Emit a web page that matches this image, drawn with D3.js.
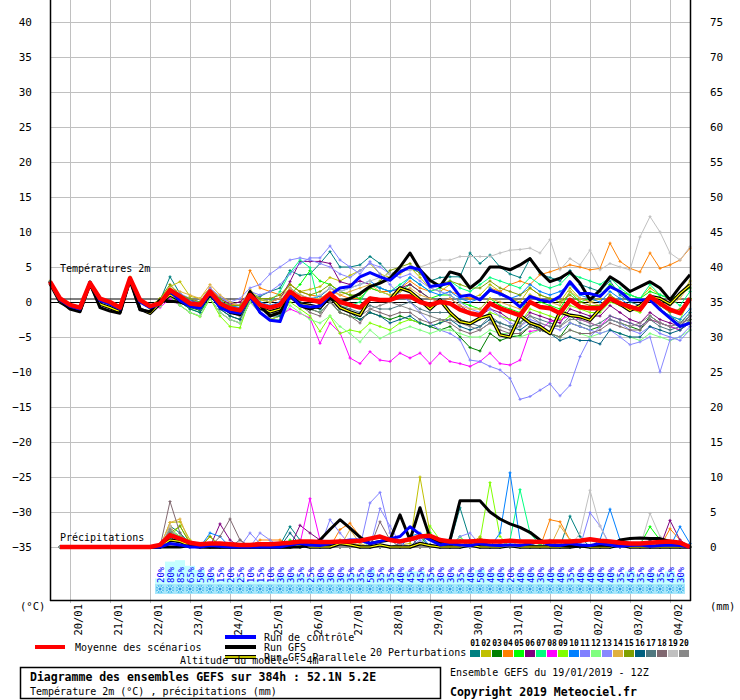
<!DOCTYPE html>
<html>
<head>
<meta charset="utf-8">
<script src="https://cdn.jsdelivr.net/npm/d3@7"></script>
<style>
  body { margin: 0; background: #fff; }
  text { font-family: "DejaVu Sans Mono", monospace; }
</style>
</head>
<body>
<script>
// Data
//= ================================
// model steps, every 6h from 19/01 12Z (0h) to 384h
var hours = d3.range(0, 385, 6);
var precipHours = hours.slice(1);
var pctHours = d3.range(66, 379, 6);

var dayLabels = ["20/01", "21/01", "22/01", "23/01", "24/01", "25/01", "26/01", "27/01",
  "28/01", "29/01", "30/01", "31/01", "01/02", "02/02", "03/02", "04/02"];
var dayHours = d3.range(12, 373, 24);
var tempTicks = [-35, -30, -25, -20, -15, -10, -5, 0, 5, 10, 15, 20, 25, 30, 35, 40];
var mmTicks = [0, 5, 10, 15, 20, 25, 30, 35, 40, 45, 50, 55, 60, 65, 70, 75];

// probability of precipitation (%), 22/01 06Z -> 04/02 06Z
var pctValues = [20, 80, 85, 65, 50, 30, 15, 20, 25, 10, 15, 10, 30, 30, 35, 25, 30, 30, 30, 35,
  35, 50, 35, 35, 40, 45, 45, 35, 30, 30, 35, 40, 50, 40, 40, 20, 40, 40, 30, 40,
  40, 35, 40, 40, 40, 40, 35, 45, 35, 40, 35, 45, 30];

var pertColors = ["#008080", "#c0c000", "#008000", "#ff8000", "#00ff00", "#800080", "#00ff80",
  "#ff00ff", "#80ff00", "#0080ff", "#8080ff", "#80ff80", "#8888ff", "#e0b040", "#80a000",
  "#006080", "#507880", "#806870", "#c0c0c0", "#888888"];
var pertNames = ["01", "02", "03", "04", "05", "06", "07", "08", "09", "10",
  "11", "12", "13", "14", "15", "16", "17", "18", "19", "20"];

// 2m temperature (°C)
var tempMean = [2.9,0.5,-0.4,-0.8,2.7,0.5,0.0,-0.8,3.4,0.3,-0.6, -0.2, 1.7,0.8,-0.2,-0.4, 1.5,-0.2,-0.9,-1.2, 1.0,-0.4,-0.8,-0.4, 1.5,0.5,0.3,0.0, 1.2,0.0,-0.4,-0.8, 0.5,0.3,0.3,0.8, 0.8,0.0,-0.4,0.0, -0.2,-1.1,-1.6,-1.9, -0.2,-0.9,-1.4,-1.9, 0.0,-0.7,-0.9,-1.6, 0.3,-0.7,-0.9,-0.9, 0.5,-0.2,-0.7,-1.1, 0.8,-0.2,-1.1,-1.6, 0.5];
var tempControl = [2.9,0.3,-0.6,-1.0,2.8,0.2,-0.3,-1.0,3.4,0.0,-0.8, -0.3, 1.5,0.2,-0.6,-0.9, 1.3,-0.8,-1.4,-1.6, 0.8,-1.5,-2.6,-2.8, 1.0,-0.5,-0.7,-0.6, 1.0,2.0,2.2,3.6, 4.2,3.6,3.1,4.3, 5.0,4.6,2.2,2.4, 2.7,0.8,1.0,0.3, 1.7,1.2,0.5,-0.7, 0.8,0.3,0.0,0.8, 2.9,1.2,1.2,0.8, 2.2,1.5,0.3,0.3, 0.3,-1.1,-2.3,-3.5, -3.0];
var tempGfs = [2.9,0.2,-1.0,-1.4,2.7,-0.8,-1.3,-1.6,3.3,-1.1,-1.4, 0.3, 0.1,0.0,-0.5,-0.8, 1.0,-0.5,-1.5,-1.8, 1.5,-0.5,-2.0,-1.5, 1.0,-0.5,-1.0,-0.5, 0.5,0.0,0.5,1.2, 2.2,2.7,3.4,5.0, 7.0,4.6,3.1,2.2, 4.3,3.9,2.0,3.1, 5.0,5.0,4.6,5.3, 6.2,4.3,2.9,3.4, 4.3,2.7,0.3,1.7, 3.6,2.7,1.5,2.2, 2.9,2.0,0.3,2.2, 3.9];
var tempPara = [2.7,0.0,-0.8,-1.2,2.6,-0.3,-0.8,-1.4,3.2,-1.0,-1.6, -0.2, 1.0,0.3,-0.5,-0.8, 1.2,-0.5,-1.2,-1.5, 0.8,-0.8,-1.4,-1.0, 0.9,-0.3,-0.5,-0.8, 0.8,-0.8,-1.4,-1.9, 0.5,0.3,0.3,2.0, 1.5,0.3,-1.0,0.3, -1.5,-2.8,-3.1,-2.3, -1.9,-4.7,-5.0,-1.9, -3.0,-3.5,-4.5,-1.4, -1.9,-2.1,-2.6,-1.0, 0.5,-0.3,-1.2,-0.5, 0.8,0.5,-0.3,1.2, 2.4];
var tempPert = [
  [2.8,0.4,-0.4,-0.8,2.9,0.4,0.0,-0.8,3.5,0.2,-0.5, 0.2, 3.6,1.2,0.3,0.0, 1.8,0.3,-0.8,-1.5, 1.0,0.8,1.5,2.0, 4.5,3.8,4.0,5.5, 7.2,5.0,5.0,5.3, 6.5,5.5,4.0,4.5, 4.8,4.2,3.0,3.5, 3.6,3.6,7.0,5.5, 6.7,5.0,4.0,3.5, 6.2,4.0,3.5,3.0, 4.5,2.5,2.0,1.5, 3.0,1.0,0.0,-0.5, 1.0,-1.0,-2.0,-3.0, -1.5],
  [3.0,0.3,-0.5,-1.0,2.8,0.3,-0.1,-0.9,3.6,0.1,-0.6, 0.4, 2.2,2.9,0.8,0.5, 2.0,0.5,-0.5,-0.9, 1.8,0.3,0.0,0.5, 2.5,1.5,1.8,2.2, 3.5,3.0,3.8,4.5, 5.5,4.0,3.5,4.0, 5.0,3.5,2.0,1.5, 2.5,1.0,0.5,1.0, 2.5,1.5,0.5,0.0, 2.0,1.0,0.5,0.0, 2.0,0.5,0.0,0.5, 2.5,1.5,1.0,0.5, 2.0,1.0,0.5,1.0, 3.0],
  [2.9,0.2,-0.6,-1.0,2.7,0.2,-0.3,-1.0,3.3,0.0,-0.8, -0.4, 1.2,0.3,-0.8,-1.2, 1.0,-1.0,-2.0,-2.5, 0.5,-1.0,-1.8,-1.5, 0.8,-0.5,-1.0,-1.5, 0.0,-1.5,-2.0,-2.5, -1.5,-2.0,-2.5,-2.0, -2.5,-3.0,-3.5,-4.0, -3.5,-5.0,-6.5,-7.0, -4.5,-5.5,-5.0,-4.8, -3.5,-4.0,-4.5,-5.0, -3.0,-3.5,-4.0,-3.5, -2.5,-3.0,-3.5,-4.0, -2.0,-3.0,-3.5,-4.0, -2.5],
  [2.9,0.4,-0.4,-0.8,2.9,0.4,0.0,-0.7,3.5,0.3,-0.5, 0.0, 1.5,1.0,0.2,-0.2, 2.0,0.5,-0.3,-0.5, 4.5,2.0,1.5,1.0, 2.5,1.5,1.0,0.8, 2.0,1.0,0.5,0.5, 2.0,1.5,1.5,2.0, 3.0,2.0,1.5,2.0, 1.5,1.0,0.5,0.5, 2.0,1.5,2.5,3.0, 2.5,3.9,4.3,4.8, 5.3,5.0,4.6,4.8, 8.4,5.8,4.8,4.3, 7.0,4.8,5.3,6.0, 7.7],
  [2.8,0.2,-0.6,-1.1,2.7,0.1,-0.4,-1.1,3.3,-0.1,-0.9, -0.5, 1.0,0.0,-1.0,-1.5, 0.5,-1.5,-2.5,-3.0, 0.0,-1.5,-2.5,-2.0, 1.0,2.5,4.5,3.0, 2.5,1.5,1.0,0.5, 2.0,1.5,1.0,1.5, 2.5,1.5,0.5,1.0, 1.0,0.0,-0.5,-1.0, 0.5,-0.5,-1.0,-1.5, 1.0,0.0,-0.5,-1.0, 1.5,0.0,0.5,1.0, 2.5,1.5,1.0,0.5, 1.5,1.0,0.5,1.0, 2.0],
  [2.9,0.3,-0.5,-0.9,2.8,0.3,-0.2,-0.8,3.4,0.1,-0.7, 0.0, 1.8,0.8,0.2,-0.2, 1.5,0.5,-0.3,0.0, 1.2,0.5,0.0,0.5, 2.9,5.8,5.8,5.8, 5.5,2.9,2.5,3.0, 2.5,2.0,1.5,2.0, 2.5,1.5,0.5,0.0, 0.5,-0.5,-1.5,-2.0, -1.0,-1.5,-2.5,-3.0, -1.5,-2.0,-2.5,-3.0, -1.0,-1.5,-2.0,-2.0, -0.5,-1.5,-2.5,-3.0, -1.5,-2.5,-3.0,-3.5, -2.0],
  [2.9,0.3,-0.5,-0.9,2.8,0.3,-0.2,-0.9,3.4,0.1,-0.7, -0.2, 1.5,0.5,-0.5,-0.5, 1.0,0.0,-0.5,-1.0, 1.5,0.5,0.0,1.5, 4.2,6.0,4.9,-1.0, 1.0,-1.0,-0.5,0.0, 2.5,2.0,1.5,2.5, 3.5,2.5,1.5,2.0, 3.0,2.0,1.5,2.5, 3.5,3.0,2.5,2.0, 3.5,2.5,2.0,2.5, 4.0,3.5,3.0,2.5, 3.5,2.0,1.0,0.5, 2.5,1.0,0.5,-0.5, 1.5],
  [2.9,0.2,-0.6,-1.0,2.8,0.2,-0.3,-1.0,3.3,0.0,-0.8, -0.8, 0.5,-0.5,-1.5,-2.0, 0.5,-1.5,-2.5,-3.0, 0.0,-1.5,-2.5,-2.0, -1.0,-1.6,-2.3,-5.9, -3.0,-4.4,-8.0,-8.8, -7.1,-8.3,-8.5,-7.3, -8.0,-7.3,-8.8,-7.3, -8.5,-8.8,-9.2,-8.5, -7.3,-8.8,-9.0,-8.3, -4.2,-4.0,-2.8,-2.6, -1.9,-2.5,-3.0,-3.5, -2.0,-2.5,-3.0,-3.5, -2.5,-3.0,-3.5,-4.0, -3.0],
  [2.8,0.2,-0.6,-1.1,2.7,0.1,-0.4,-1.1,3.3,-0.1,-0.9, -0.6, 1.0,-0.5,-1.5,-2.1, 0.5,-2.0,-3.5,-3.7, 0.5,-1.5,-2.5,-2.0, 0.0,-1.0,-2.0,-4.2, -2.0,-4.5,-4.0,-4.3, -3.0,-3.5,-4.0,-3.0, -2.5,-3.0,-3.5,-3.0, -2.0,-2.5,-3.0,-2.5, -1.5,-2.0,-2.5,-3.0, -1.0,-1.5,-2.0,-2.5, -0.5,-1.0,-1.5,-1.5, 0.0,-0.5,-1.0,-1.5, 0.5,-1.0,-2.0,-2.5, 0.5],
  [2.9,0.3,-0.5,-0.9,2.8,0.3,-0.2,-0.9,3.4,0.1,-0.7, 0.0, 1.8,1.0,0.2,-0.3, 1.5,0.0,-0.5,-0.8, 1.2,0.0,-0.5,0.0, 2.0,1.0,0.5,0.8, 2.0,1.5,2.0,2.5, 3.0,2.0,1.5,2.0, 3.5,2.5,1.5,1.0, 1.5,0.5,0.0,0.5, 2.0,1.0,0.5,1.0, 2.5,1.5,1.0,1.5, 2.5,1.0,0.5,0.0, 1.5,0.5,-0.5,-1.0, 0.5,-1.0,-2.0,-2.5, -1.0],
  [2.9,0.4,-0.4,-0.8,2.9,0.4,-0.1,-0.8,3.5,0.2,-0.6, 0.2, 2.0,1.2,0.5,0.0, 2.0,0.8,0.0,-0.5, 1.5,1.0,1.5,2.5, 4.0,5.5,6.3,6.3, 8.0,6.0,5.0,4.0, 5.8,4.0,2.5,1.0, 0.0,-1.5,-3.0,-4.0, -4.5,-5.4,-8.3,-8.5, -9.2,-9.7,-10.9,-13.9, -13.5,-12.6,-11.7,-13.4, -11.9,-7.8,-5.0,-3.5, -2.5,-3.0,-4.0,-4.5, -3.5,-4.5,-5.0,-5.5, -4.0],
  [2.8,0.2,-0.6,-1.0,2.7,0.2,-0.3,-1.0,3.3,0.0,-0.8, -0.6, 0.8,-0.5,-1.5,-2.0, 0.5,-1.5,-2.5,-3.0, 0.0,-1.5,-2.5,-2.5, -0.5,-1.5,-2.5,-3.0, -2.0,-3.5,-4.5,-5.7, -4.0,-5.2,-4.5,-4.0, -3.5,-4.0,-4.5,-4.0, -4.0,-4.5,-5.0,-5.0, -4.0,-4.5,-4.5,-5.0, -4.5,-4.0,-4.5,-5.0, -4.0,-4.5,-5.0,-4.5, -4.0,-4.5,-5.0,-5.5, -4.5,-5.0,-5.5,-5.0, -4.0],
  [2.9,0.3,-0.5,-0.9,2.8,0.3,-0.2,-0.9,3.4,0.1,-0.7, 0.0, 1.5,0.5,0.0,-0.5, 1.5,0.5,0.0,0.5, 2.0,2.5,4.0,5.0, 6.0,6.3,6.0,5.5, 5.0,4.0,3.5,4.5, 5.5,5.0,4.0,3.5, 4.0,3.0,2.0,1.5, 1.0,0.0,-1.0,-1.5, -1.0,-2.0,-3.0,-3.5, -2.5,-3.0,-3.5,-4.0, -3.0,-3.5,-4.0,-4.5, -4.0,-5.0,-6.1,-5.7, -5.0,-10.0,-5.4,-5.0, -3.5],
  [2.9,0.3,-0.5,-0.9,2.9,0.3,-0.2,-0.9,3.4,0.1,-0.7, 0.5, 2.0,1.5,1.0,0.5, 2.5,1.0,0.0,-0.5, 1.5,0.5,0.0,0.5, 2.0,1.0,0.5,0.5, 1.5,1.0,1.5,2.0, 2.5,1.5,1.0,1.5, 2.0,1.0,0.5,0.0, 0.5,-0.5,-1.0,-1.0, 0.5,0.0,-0.5,-1.0, 1.0,0.5,0.0,-0.5, 1.5,0.5,0.0,-0.5, 1.0,0.0,-0.5,-1.0, 1.0,0.0,-0.5,0.5, 2.5],
  [2.9,0.3,-0.5,-0.9,2.8,0.3,-0.2,-0.9,3.5,0.1,-0.7, 0.5, 2.5,1.0,0.5,0.0, 1.5,0.5,-0.5,-0.5, 1.0,0.5,0.5,1.0, 2.5,1.5,1.0,1.5, 2.5,1.5,1.0,1.0, 2.0,3.0,4.5,5.0, 5.5,4.0,3.0,2.5, 3.0,2.5,2.0,2.0, 3.0,2.0,1.5,1.0, 2.0,1.0,0.5,0.0, 1.0,0.0,-0.5,-0.5, 1.0,0.0,-0.5,-1.0, 0.5,-0.5,-1.5,-1.0, 0.5],
  [2.9,0.2,-0.6,-1.0,2.8,0.2,-0.3,-1.0,3.3,0.0,-0.8, -0.3, 1.2,0.0,-1.0,-1.5, 1.0,-1.0,-2.0,-2.5, 0.5,-1.0,-2.0,-2.0, 1.0,0.0,-0.5,-1.0, 0.5,-1.0,-1.5,-2.5, -1.5,-2.0,-3.0,-2.5, -2.0,-3.0,-3.5,-3.0, -2.5,-3.5,-4.0,-3.5, -2.5,-3.0,-3.5,-4.0, -3.0,-4.0,-4.5,-5.5, -5.0,-5.5,-5.5,-6.0, -4.0,-4.5,-5.0,-5.0, -3.5,-4.0,-4.5,-4.0, -3.0],
  [2.9,0.3,-0.5,-0.9,2.8,0.3,-0.2,-0.9,3.4,0.1,-0.7, -0.2, 1.5,0.5,-0.5,-1.0, 1.0,-0.5,-1.5,-2.0, 0.8,-0.5,-1.5,-1.0, 1.2,0.0,-0.5,-0.5, 0.5,-0.5,-1.0,-1.5, -0.5,-1.0,-1.0,-0.5, 0.0,-1.0,-1.5,-1.5, -1.5,-2.5,-3.0,-3.5, -2.0,-3.0,-3.5,-3.0, -2.0,-2.5,-3.0,-3.5, -2.0,-3.0,-3.5,-3.0, -2.0,-2.5,-3.0,-3.5, -2.5,-3.5,-4.0,-3.5, -2.0],
  [2.9,0.2,-0.6,-1.0,2.8,0.2,-0.3,-1.0,3.4,0.0,-0.8, -0.1, 1.3,0.3,-0.3,-0.7, 1.2,-0.3,-1.2,-1.6, 0.5,-1.0,-2.0,-1.5, 0.5,-0.5,-1.5,-2.0, 0.0,-1.5,-2.0,-3.0, -1.0,-1.5,-2.0,-1.5, -1.5,-2.5,-3.0,-2.5, -3.0,-4.0,-4.5,-4.0, -3.0,-4.0,-4.5,-4.5, -3.5,-4.0,-4.5,-5.0, -4.0,-4.5,-4.5,-4.0, -3.0,-3.5,-4.0,-4.0, -2.5,-3.0,-3.5,-3.0, -2.5],
  [2.9,0.3,-0.5,-0.9,2.8,0.3,-0.2,-0.9,3.4,0.1,-0.7, 0.0, 1.8,0.8,0.0,-0.3, 1.5,0.0,-0.8,-1.0, 1.0,-0.3,-0.8,-0.5, 1.5,0.5,0.5,1.0, 2.0,1.5,2.0,2.5, 3.0,3.5,4.0,4.5, 4.5,5.0,5.5,6.0, 6.0,6.5,6.5,6.5, 6.5,7.0,7.4,7.5, 7.7,7.0,8.9,4.6, 6.2,5.3,7.4,4.6, 5.5,5.0,4.6,9.3, 12.2,10.0,7.0,6.0, 7.9],
  [2.9,0.3,-0.5,-0.9,2.8,0.3,-0.2,-0.9,3.4,0.1,-0.7, -0.3, 1.2,0.2,-0.6,-1.0, 0.8,-0.8,-1.5,-2.0, 0.5,-1.0,-1.5,-1.5, 1.0,-0.5,-1.0,-1.5, 0.0,-1.0,-1.5,-2.0, -1.0,-0.5,0.0,-0.5, -1.0,-1.5,-2.0,-2.5, -2.5,-3.0,-3.5,-4.0, -3.0,-3.5,-4.0,-3.5, -2.0,-3.0,-3.5,-3.5, -2.5,-2.5,-3.0,-3.5, -2.5,-3.0,-3.5,-3.0, -2.0,-3.0,-3.5,-3.0, -2.0]
];

// 6h precipitation (mm), 6h -> 384h
var precipMean = [0,0,0,0,0,0,0,0,0,0, 0.3,1.7,1.2,0.6,0.4,0.5,0.5,0.4,0.3,0.3, 0.4,0.4,0.5,0.6,0.8,0.8,0.7,0.7,0.8,0.8, 0.9,1.2,1.5,1.0,0.8,1.1,1.5,1.6,1.0,0.8, 0.8,0.8,0.9,0.8,0.8,0.9,0.8,0.8,0.7,0.8, 0.8,0.8,0.9,1.1,0.9,0.8,0.6,0.5,0.5,0.6, 0.7,0.8,0.6,0];
var precipControl = [0,0,0,0,0,0,0,0,0,0, 0,0.5,0.3,0,0,0.2,0.1,0,0,0, 0,0,0,0.3,0.5,0.3,0.2,0.5,0.8,1.0, 1.0,0.5,0.8,1.2,1.5,2.9,1.8,1.0,0.3,0.5, 0.3,0.2,0.5,0.3,0.2,0.3,0.2,0.5,0.8,0.3, 0.2,0.5,0.3,0.2,0.5,0.3,0.1,0.2,0.3,0.1, 0.2,0.3,0.2,0];
var precipGfs = [0,0,0,0,0,0,0,0,0,0, 0,0,0,0.2,0.1,0,0,0,0,0, 0,0,0,0,0,0.3,1.0,2.5,3.9,2.7, 1.4,0.5,0.8,1.0,4.6,1.0,5.6,1.3,0.6,1.0, 6.6,6.6,6.6,5.0,4.0,3.3,2.8,2.1,1.0,0.3, 0.2,0.1,0.1,0.2,0.3,0.2,1.0,1.2,1.3,1.2, 1.2,0.8,0.3,0];
var precipPara = [0,0,0,0,0,0,0,0,0,0, 0,1.0,0.8,0.2,0,0,0,0,0,0, 0,0,0,0,0.3,0,0,0,0.5,0.3, 0,0,0.3,0,0,0,0.5,0.2,0,0, 0,0.3,0,0,0,0.2,0,0,0,0, 0,0,0.2,0,0,0,0.3,0,0,0, 0,0,0,0];
var precipPert = [
  [0,0,0,0,0,0,0,0,0,0, 0,3,2,0.5,0,0,0.3,0,0,0, 0,0,0.3,2.9,1,0.3,0,0,0.2,0, 0,0.3,0,0,0.5,0,0,0.3,0,0.5, 5.6,1,0,0.3,0,0,0,0.3,0,0, 0,4.4,1.5,0,0,0.3,0,0,0,0.8, 0.3,0,0,0],
  [0,0,0,0,0,0,0,0,0,0, 0,3.5,3.6,1,0,1.5,0.3,0,0,0, 0,0.3,0,0,0,0,0.3,0,0,0.5, 0.3,0,0,0,0.3,0.5,10,2,0.5,0, 0,0.3,1.5,0,0,0.3,0,0,0,0, 0.3,0,0,0,0,0,0.3,0,0,0, 0,0.5,0,0],
  [0,0,0,0,0,0,0,0,0,0, 0,2.5,1.5,0.3,0,0,0,0,0,0, 0,0.5,0,0,0,0,0,0.3,0,0, 0,0,0,0,0,0,0,0.3,0,1, 0.3,0,0,0,0,0,0,0,0,0, 0,0,0,0,0.5,0,0,0,0,0, 0,0,0,0],
  [0,0,0,0,0,0,0,0,0,0, 0,3,1,0.3,0,0,0,0,0,0, 1,1,1,0.3,0,0,0,0,2.5,3.4, 1.5,0.3,0,0,0,0,0,0,0,0, 0,0,0,0,0,0,0.3,0,0,3.9, 3.6,1,0.3,0,0,0,0,0,0,0, 0,2.6,1,0],
  [0,0,0,0,0,0,0,0,0,0, 0,2,0.5,0,0,0,0,0,0,0, 0,0,0,1,0.3,0,0,0,0,0, 0,0,0,0,0,0,0.3,2,0.3,0, 1.5,0,0,0,0,0,0,0,0.3,0, 0,0,0,0,0,0,0,0,0.3,2.9, 1,0,0,0],
  [0,0,0,0,0,0,0,0,0,0, 0,2.5,1,0,0,0,3.3,1,0,0, 0,0,0,0,3.1,2,1,0,0,0, 0,0,0,0,0,1.5,0,0,0,0, 0,0,0,0,0,0,0,0,0,0.3, 0,0,0,0,0,0,0,0,0,0, 0,3.8,1,0],
  [0,0,0,0,0,0,0,0,0,0, 0,2,1.5,0,0,0,0,0,0,0, 0,0,0,0,0,0,0,0,0,0.3, 0,0,0,0,0,0,0,0,0,0, 0,0,0,0,0,1,8.2,2,0.3,0, 0,0,0,0,0,0,0,0.3,0,0, 0,0,0,0],
  [0,0,0,0,0,0,0,0,0,0, 0,2,0.5,0,0,0,0,0,0,0, 0,0,0,0,0.5,6.9,1,0,0,0, 0,0,0,0,0,0,0,0,0,0, 0,1,0,0,0,0,0,0,0,0, 0,0,0,0,0,0,0,0,0,0.3, 0,0,0.8,0],
  [0,0,0,0,0,0,0,0,0,0, 0,1.5,3,0.5,0,0,0,0,0,0, 0,0,0,0,0,0,0,0,0,0, 0,0,0,0,0,0,0,3,1,0, 0,0,1,9.2,1.5,0,0,0,0,0, 0,0,0,0,0,0.3,0,0,0,0.5, 0,0,0,0],
  [0,0,0,0,0,0,0,0,0,0, 0,2,0.5,0,0,2,1.5,0,0,0, 0,0,0,0,0,0,0,0,0,0, 0,0,0,0,0,1.5,2,0,0,0, 0,0,0,0,2,10.6,1,0,0,0, 0,0,0,0,1,5.4,1,0,0,0, 0,0,2.9,0.5],
  [0,0,0,0,0,0,0,0,0,0, 0,2,0.5,0,0,0,0,0,0,2, 0.5,0,0,0,0,0,0,3.9,2,0.3, 0,6.3,7.8,2,0,0,1,0,0,1, 0,0,0,0,0,0,0,0,0,0, 0,0,0,4.9,3,0.3,0,0,0,0, 0,0,0,0],
  [0,0,0,0,0,0,0,0,0,0, 0,2.5,1.5,0,0,0,0,0,0,0, 0,0,0,0,0,0,0,0,0,0, 1,0,0,0,0,0,0,0,0,0, 0,0,0,0,0,0,1,0,0,0, 0,0,0,0,0,0,0,0,0,0, 0,0,0,0],
  [0,0,0,0,0,0,0,0,0,0, 0,1.5,0.5,0,0,0,0,0,0,0, 2,1,0,0,0,0,0,0,0,0, 0,0,5.5,3,0.5,0,0,0,0,0, 1.5,2,0.3,0,0,0,0,0,0,0, 0,0,0,0,0,0,0,0,0,0, 0,0,0,0],
  [0,0,0,0,0,0,0,0,0,0, 0,3.5,4,0.5,0,0,0,0,0,0, 0,0,0,0,0,0,0,0,0,2.5, 0.5,0,0,0,0,0,0,0,0,0, 0,0,0,0,0,0,0,0,0,0, 3,1,0,0,0,0,0,0,0,0, 0,0,0,0],
  [0,0,0,0,0,0,0,0,0,0, 0,2,3,0.5,0,1.5,0,0,0,0, 0,0,0,0,0,0,0,0,1,0, 0,0,0,0,0,0,0,0,0,0, 1,0,1.2,0,0,0,0,0,0,0, 0,0,0,0,0,0,0,0,0,0, 0,0,0,0],
  [0,0,0,0,0,0,0,0,0,0, 0,1.5,0.3,0,0,0,0,0,0,0, 0,0,0,2,0.3,0,0,0,0,0, 0,0,0,0,0,0,1.5,0,0,0, 0,0,0,0,0,0,0,0,0,0, 0,0,0,0,0,0,0,0,0,1, 0,0,0,0],
  [0,0,0,0,0,0,0,0,0,0, 0,2,1,0,0,0,0,0,1,0, 0,0,0,0,0,0,0,0,0,0, 0,0,0,0,0,0,0,0,0,0, 0,0,0,0,0,0,0,0.5,0,0, 0,0,0,0,0,0,0,0,0,0, 0,0,0,0],
  [0,0,0,0,0,0,0,0,0,0, 0,6.5,2,0,0,0,1.5,4,1,0, 0,0,0,0,0,0,0,0,0,0, 0,0,3.6,1,0,0,0,0,0,0, 0,0,0,0,0,0,0,0,0,0, 0,0,0,0,0,0,0,0,0,0, 0,0,0,0],
  [0,0,0,0,0,0,0,0,0,0, 0,3,0.5,0,0,0,0,0,0,0, 0,0,0,0,0,0,0,0,0,0, 0,0,0,0,0,0,0,0,0,0, 0,0,0,0,0,0,0,0,0,0, 0,0,2,8.1,3,0,0,0,0,4.8, 1.5,0,0,0],
  [0,0,0,0,0,0,0,0,0,0, 0,2.5,1,0,0,0,0,0,0,0, 0,0,0,0,0,0,0,0,0,0, 0,0,0,0,0,0,0,0,0,0, 0,0,0,0,0.5,0,0,0,0,1, 0,0,0,0,0,0,0,0,0,0, 0,0,0,0]
];

// Step 1: Set up the chart
//= ================================
var svgWidth = 740;
var svgHeight = 700;

var svg = d3.select("body")
  .append("svg")
  .attr("width", svgWidth)
  .attr("height", svgHeight);

svg.append("rect").attr("width", svgWidth).attr("height", svgHeight).attr("fill", "#fff");

// Step 2: Scales (temperature on the left, precipitation on the right)
//= ================================
var xScale = d3.scaleLinear().domain([0, 384]).range([50, 690]);
var yTemp = d3.scaleLinear().domain([-35, 40]).range([547, 22]);
var yMm = d3.scaleLinear().domain([0, 75]).range([547, 22]);
var yPct = d3.scaleLinear().domain([0, 100]).range([584, 556]);

// Step 3: Grid
//= ================================
var grid = svg.append("g").attr("stroke", "#c0c0c0").attr("stroke-width", 1);
grid.selectAll("line.h")
  .data(tempTicks)
  .enter()
  .append("line")
  .attr("x1", 50).attr("x2", 690)
  .attr("y1", d => yTemp(d) + 0.5).attr("y2", d => yTemp(d) + 0.5);
grid.selectAll("line.v")
  .data(dayHours)
  .enter()
  .append("line")
  .attr("x1", d => xScale(d) + 0.5).attr("x2", d => xScale(d) + 0.5)
  .attr("y1", 0).attr("y2", 603);

// Step 4: precipitation probability strip
//= ================================
var strip = svg.append("g");
strip.selectAll("rect.pct")
  .data(pctValues)
  .enter()
  .append("rect")
  .attr("x", (d, i) => xScale(pctHours[i]) - 5)
  .attr("width", 10)
  .attr("y", d => yPct(d))
  .attr("height", d => yPct(0) - yPct(d))
  .attr("fill", "#c4ffff");

strip.append("rect")
  .attr("x", xScale(pctHours[0]) - 5)
  .attr("width", xScale(pctHours[pctHours.length - 1]) - xScale(pctHours[0]) + 10)
  .attr("y", 584).attr("height", 10)
  .attr("fill", "#a8e6fa");

var flakes = strip.selectAll("g.flake")
  .data(pctHours)
  .enter()
  .append("g")
  .attr("transform", d => `translate(${xScale(d)}, 589)`);
flakes.append("circle").attr("r", 4.2).attr("fill", "#52c2ee");
flakes.append("path")
  .attr("d", "M-4,0H4M0,-4V4M-3,-3L3,3M-3,3L3,-3")
  .attr("stroke", "#c8f0ff").attr("stroke-width", 1);
flakes.append("circle").attr("r", 1.2).attr("fill", "#3090e8");

strip.selectAll("text.pct")
  .data(pctValues)
  .enter()
  .append("text")
  .attr("transform", (d, i) => `translate(${xScale(pctHours[i]) + 3.5}, 583) rotate(-90)`)
  .attr("font-size", "9px")
  .attr("fill", "#0000ff")
  .text(d => d + "%");

// Step 5: 0°C double line
//= ================================
svg.append("g").selectAll("line")
  .data([0, 0.5])
  .enter()
  .append("line")
  .attr("x1", 50).attr("x2", 690)
  .attr("y1", d => yTemp(d) + 0.5).attr("y2", d => yTemp(d) + 0.5)
  .attr("stroke", "#000").attr("stroke-width", 1);

// Step 6: the series
//= ================================
var tempLine = d3.line().x((d, i) => xScale(hours[i])).y(d => yTemp(d));
var mmLine = d3.line().x((d, i) => xScale(precipHours[i])).y(d => yMm(d));

function drawPert(values, color, line, hrs, yS) {
  var g = svg.append("g");
  g.append("path")
    .attr("d", line(values))
    .attr("fill", "none")
    .attr("stroke", color)
    .attr("stroke-width", 1);
  g.append("path")
    .attr("d", values.map((v, i) => {
      var px = xScale(hrs[i]), py = yS(v);
      return `M${px - 1.5},${py}h3M${px},${py - 1.5}v3`;
    }).join(""))
    .attr("stroke", color)
    .attr("stroke-width", 1);
}

function drawThick(values, line, color, width) {
  svg.append("path")
    .attr("d", line(values))
    .attr("fill", "none")
    .attr("stroke", color)
    .attr("stroke-width", width)
    .attr("stroke-linejoin", "round");
}

tempPert.forEach((s, k) => drawPert(s, pertColors[k], tempLine, hours, yTemp));
precipPert.forEach((s, k) => drawPert(s, pertColors[k], mmLine, precipHours, yMm));

drawThick(tempPara, tempLine, "#000", 3.5);
drawThick(tempPara, tempLine, "#ffff00", 1.2);
drawThick(precipPara, mmLine, "#000", 3.5);
drawThick(precipPara, mmLine, "#ffff00", 1.2);

drawThick(tempGfs, tempLine, "#000", 3);
drawThick(precipGfs, mmLine, "#000", 3);
drawThick(tempControl, tempLine, "#0000ff", 3);
drawThick(precipControl, mmLine, "#0000ff", 3);
drawThick(tempMean, tempLine, "#ff0000", 4.5);
drawThick(precipMean, mmLine, "#ff0000", 4.5);

// Step 7: Axes
//= ================================
svg.append("g").attr("stroke", "#000").attr("stroke-width", 1.5)
  .call(g => g.append("line").attr("x1", 50.5).attr("x2", 50.5).attr("y1", 0).attr("y2", 601))
  .call(g => g.append("line").attr("x1", 690.5).attr("x2", 690.5).attr("y1", 0).attr("y2", 601))
  .call(g => g.append("line").attr("x1", 50).attr("x2", 691).attr("y1", 600.5).attr("y2", 600.5));

var leftAxis = d3.axisLeft(yTemp).tickValues(tempTicks).tickSize(0).tickPadding(18);
var rightAxis = d3.axisRight(yMm).tickValues(mmTicks).tickSize(0).tickPadding(20);

svg.append("g").attr("transform", "translate(50, 0)").call(leftAxis)
  .call(g => g.select(".domain").remove())
  .selectAll("text").attr("font-family", "'Liberation Sans', Arial, sans-serif").attr("font-size", "11px");
svg.append("g").attr("transform", "translate(690, 0)").call(rightAxis)
  .call(g => g.select(".domain").remove())
  .selectAll("text").attr("font-family", "'Liberation Sans', Arial, sans-serif").attr("font-size", "11px");

svg.append("g").selectAll("text")
  .data(dayLabels)
  .enter()
  .append("text")
  .attr("transform", (d, i) => `translate(${xScale(dayHours[i]) + 11.5}, 604) rotate(-90)`)
  .attr("text-anchor", "end")
  .attr("font-size", "10.5px")
  .text(d => d);

svg.append("text").attr("x", 20).attr("y", 610).attr("font-size", "10.5px").text("(°C)");
svg.append("text").attr("x", 710).attr("y", 610).attr("font-size", "10.5px").text("(mm)");
svg.append("text").attr("x", 60).attr("y", 272).attr("font-size", "10px").text("Températures 2m");
svg.append("text").attr("x", 60).attr("y", 541).attr("font-size", "10px").text("Précipitations");

// Step 8: Legend
//= ================================
var legend = svg.append("g").attr("font-size", "10px");
legend.append("line").attr("x1", 35).attr("x2", 65).attr("y1", 647).attr("y2", 647)
  .attr("stroke", "#ff0000").attr("stroke-width", 4);
legend.append("text").attr("x", 75).attr("y", 651).text("Moyenne des scénarios");

legend.append("line").attr("x1", 225).attr("x2", 256).attr("y1", 637).attr("y2", 637)
  .attr("stroke", "#0000ff").attr("stroke-width", 4);
legend.append("text").attr("x", 264).attr("y", 641).text("Run de contrôle");
legend.append("line").attr("x1", 225).attr("x2", 256).attr("y1", 647).attr("y2", 647)
  .attr("stroke", "#000").attr("stroke-width", 4);
legend.append("text").attr("x", 264).attr("y", 651).text("Run GFS");
legend.append("line").attr("x1", 225).attr("x2", 256).attr("y1", 657).attr("y2", 657)
  .attr("stroke", "#000").attr("stroke-width", 4);
legend.append("line").attr("x1", 225).attr("x2", 256).attr("y1", 657).attr("y2", 657)
  .attr("stroke", "#ffff00").attr("stroke-width", 1.5);
legend.append("text").attr("x", 264).attr("y", 661).text("Run GFS Parallele");
legend.append("text").attr("x", 180).attr("y", 664).text("Altitude du modèle : 4m");

legend.append("text").attr("x", 370).attr("y", 656).text("20 Perturbations");
legend.selectAll("rect.sw")
  .data(pertNames)
  .enter()
  .append("rect")
  .attr("x", (d, i) => 470 + i * 11)
  .attr("y", 650)
  .attr("width", 10)
  .attr("height", 7)
  .attr("fill", (d, i) => pertColors[i]);
legend.selectAll("text.sw")
  .data(pertNames)
  .enter()
  .append("text")
  .attr("x", (d, i) => 475 + i * 11)
  .attr("y", 646)
  .attr("text-anchor", "middle")
  .attr("font-size", "8px")
  .attr("font-weight", "bold")
  .text(d => d);

// Step 9: Title block
//= ================================
svg.append("rect")
  .attr("x", 20.5).attr("y", 667.5).attr("width", 420).attr("height", 31)
  .attr("fill", "#fff").attr("stroke", "#000").attr("stroke-width", 1.5);
svg.append("text").attr("x", 30).attr("y", 681).attr("font-size", "11.5px").attr("font-weight", "bold")
  .text("Diagramme des ensembles GEFS sur 384h : 52.1N 5.2E");
svg.append("text").attr("x", 30).attr("y", 695).attr("font-size", "10px")
  .text("Température 2m (°C) , précipitations (mm)");
svg.append("text").attr("x", 450).attr("y", 676).attr("font-size", "10px")
  .text("Ensemble GEFS du 19/01/2019 - 12Z");
svg.append("text").attr("x", 450).attr("y", 696).attr("font-size", "11.5px").attr("font-weight", "bold")
  .text("Copyright 2019 Meteociel.fr");
</script>
</body>
</html>
